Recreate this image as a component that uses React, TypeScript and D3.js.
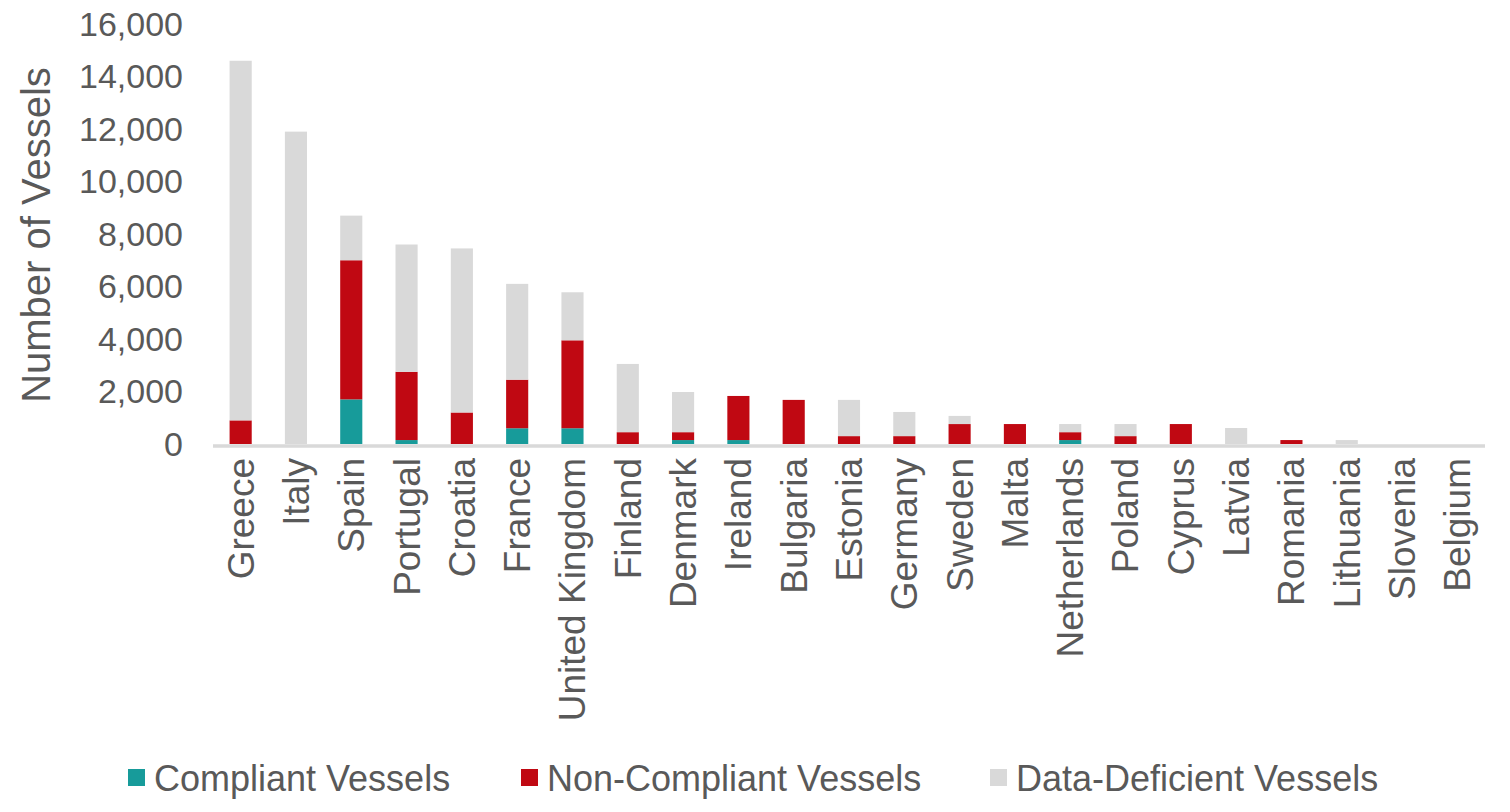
import React from "react";
import * as d3 from "d3";

const countries = ["Greece","Italy","Spain","Portugal","Croatia","France","United Kingdom","Finland","Denmark","Ireland","Bulgaria","Estonia","Germany","Sweden","Malta","Netherlands","Poland","Cyprus","Latvia","Romania","Lithuania","Slovenia","Belgium"];
const compliant =     [0,    0,     1700, 150,  0,    600,  600,  0,    150,  150,  0,    0,    0,   0,   0,   150, 0,   0,   0,   0,   0,   0, 0];
const nonCompliant =  [900,  0,     5300, 2600, 1200, 1850, 3350, 450,  300,  1680, 1680, 300,  300, 760, 760, 300, 300, 760, 0,   150, 0,   0, 0];
const dataDeficient = [13700,11900, 1700, 4850, 6250, 3650, 1830, 2600, 1530, 0,    0,    1380, 920, 310, 0,   310, 460, 0,   610, 0,   150, 0, 0];
const yTicks = [0, 2000, 4000, 6000, 8000, 10000, 12000, 14000, 16000];
const seriesNames = ["Compliant Vessels", "Non-Compliant Vessels", "Data-Deficient Vessels"];
const seriesColors = ["#179B9A", "#C00812", "#D9D9D9"];

const W = 1510, H = 812;
const TEXT = "#595959";
const FONT = "'Liberation Sans', Arial, sans-serif";

export default function App() {
  const x = d3.scaleBand<string>().domain(countries).range([213, 1485]).paddingInner(0.6).paddingOuter(0.3);
  const y = d3.scaleLinear().domain([0, 16000]).range([444, 24]);
  const rows = countries.map((c, i) => ({ country: c, c0: compliant[i], c1: nonCompliant[i], c2: dataDeficient[i] }));
  const stack = d3.stack<any>().keys(["c0", "c1", "c2"])(rows);
  const fmt = d3.format(",");
  const legendX = [128, 521, 990];

  return (
    <svg width={W} height={H} style={{ position: "absolute", left: 0, top: 0, background: "#fff" }} fontFamily={FONT}>
      {stack.map((layer, si) => (
        <g key={si} fill={seriesColors[si]}>
          {layer.map((d, i) => {
            const h = y(d[0]) - y(d[1]);
            if (h <= 0) return null;
            return <rect key={i} x={x(countries[i])} y={y(d[1])} width={x.bandwidth()} height={h} />;
          })}
        </g>
      ))}
      <line x1={213} x2={1485} y1={446} y2={446} stroke="#D9D9D9" strokeWidth={3.5} />
      {yTicks.map(t => (
        <text key={t} x={183} y={y(t)} dy="0.35em" textAnchor="end" fontSize={34} fill={TEXT}>{fmt(t)}</text>
      ))}
      <text transform={`translate(50,235) rotate(-90)`} textAnchor="middle" fontSize={40} fill={TEXT}>Number of Vessels</text>
      {countries.map(c => (
        <text key={c} transform={`translate(${(x(c) as number) + x.bandwidth() / 2},458) rotate(-90)`} dy="0.35em" textAnchor="end" fontSize={37} fill={TEXT}>{c}</text>
      ))}
      {seriesNames.map((n, i) => (
        <g key={n}>
          <rect x={legendX[i]} y={769} width={17} height={17} fill={seriesColors[i]} />
          <text x={legendX[i] + 26} y={791} fontSize={36} fill={TEXT}>{n}</text>
        </g>
      ))}
    </svg>
  );
}
